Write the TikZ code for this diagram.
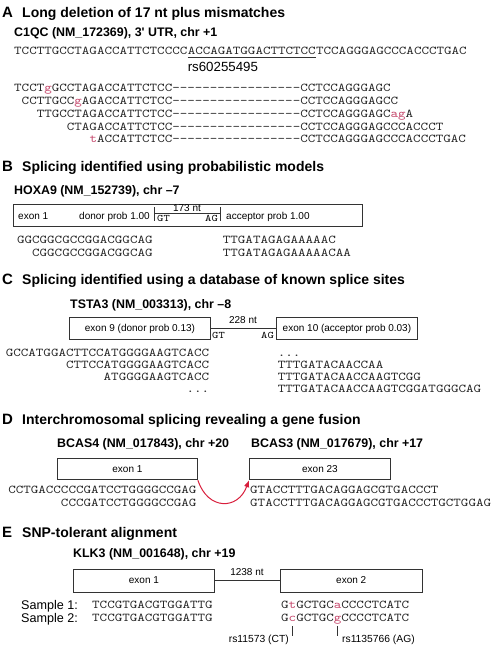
\documentclass[tikz,border=0pt]{standalone}
\usepackage{fontspec}
\setmainfont{Liberation Sans}
\setmonofont{lmmono10-regular.otf}[FakeStretch=1.2]
\usepackage{xcolor}
\usepackage{tikz}
\usetikzlibrary{arrows.meta,positioning}
\definecolor{snppink}{HTML}{C4456A}
\definecolor{fusered}{HTML}{D81E3C}
\definecolor{boxgrey}{HTML}{333333}
\newcommand{\mism}[1]{\textcolor{snppink}{#1}}

\begin{document}
\begin{tikzpicture}[
  x=1pt, y=-1pt,
  panel/.style={font=\bfseries\fontsize{15}{15}\selectfont, anchor=base west, inner sep=0pt},
  title/.style={font=\bfseries\fontsize{14}{14}\selectfont, anchor=base west, inner sep=0pt},
  gene/.style={font=\bfseries\fontsize{12.4}{13}\selectfont, anchor=base west, inner sep=0pt},
  seq/.style={font=\ttfamily\fontsize{11.95}{13}\selectfont, anchor=base west, inner sep=0pt, text=black!85},
  seqr/.style={seq, anchor=base east},
  exon/.style={draw=boxgrey, line width=0.9pt, minimum width=141pt, minimum height=22pt, inner sep=0pt, anchor=north west, font=\fontsize{10}{10}\selectfont},
  lbl/.style={font=\fontsize{10}{10}\selectfont, inner sep=0pt, anchor=base},
  site/.style={font=\ttfamily\fontsize{10}{10}\selectfont, inner sep=0pt},
  intron/.style={line width=0.9pt, boxgrey},
  fusion/.style={-{Latex[length=7pt,width=5.5pt]}, line width=1pt, fusered},
]
\useasboundingbox (0,0) rectangle (493,646);

% A: long deletion
\node[panel] (pA) at (2,17) {A};
\node[title] (tA) at (22,17) {Long deletion of 17 nt plus mismatches};
\node[gene] (gA) at (14,36.3) {C1QC (NM\_172369), 3\textquotesingle{} UTR, chr +1};
\node[seq] (refL) at (14,54.2) {TCCTTGCCTAGACCATTCTCCCC};
\node[seq] (refM) at (refL.base east) {ACCAGATGGACTTCTCC};
\node[seq] (refR) at (refM.base east) {TCCAGGGAGCCCACCCTGAC};
\draw[intron] ([yshift=-3.3pt]refM.base west) -- ([yshift=-3.3pt]refM.base east);
\node[font=\fontsize{13.3}{13}\selectfont, anchor=base west, inner sep=0pt] (rsA) at ([yshift=-17pt]refM.base west) {rs60255495};
\node[seq] (rA1) at (14,91.7) {TCCT\mism{g}GCCTAGACCATTCTCC-----------------CCTCCAGGGAGC};
\node[seq] (rA2) at (21.53,104.5) {CCTTGCC\mism{g}AGACCATTCTCC-----------------CCTCCAGGGAGCC};
\node[seq] (rA3) at (36.59,117.3) {TTGCCTAGACCATTCTCC-----------------CCTCCAGGGAGC\mism{ag}A};
\node[seq] (rA4) at (66.71,130.1) {CTAGACCATTCTCC-----------------CCTCCAGGGAGCCCACCCT};
\node[seq] (rA5) at (89.3,142.9) {\mism{t}ACCATTCTCC-----------------CCTCCAGGGAGCCCACCCTGAC};

% B: probabilistic splice model
\node[panel] (pB) at (2,171.5) {B};
\node[title] (tB) at (22,171.5) {Splicing identified using probabilistic models};
\node[gene] (gB) at (14,194.3) {HOXA9 (NM\_152739), chr --7};
\node[exon, minimum width=349pt, minimum height=21.7pt] (hoxbox) at (13,204.3) {};
\node[lbl, anchor=base west] (hoxex) at (18,219.4) {exon 1};
\node[lbl, anchor=base east] (hoxdon) at (150,219.4) {donor prob 1.00};
\node[lbl, anchor=base west] (hoxacc) at (226,219.4) {acceptor prob 1.00};
\coordinate (gtL) at (154,207);
\coordinate (agR) at (220,207);
\draw[intron] (gtL) -- ++(0,14) (agR) -- ++(0,14);
\draw[intron] ([yshift=-6pt]gtL) -- ([yshift=-6pt]agR);
\node[lbl] (ntB) at (187,211.5) {173 nt};
\node[site, anchor=base west] (gtB) at (157,221) {GT};
\node[site, anchor=base east] (agB) at (218,221) {AG};
\node[seqr] (sB1) at (152.8,243) {GGCGGCGCCGGACGGCAG};
\node[seqr] (sB2) at (152.8,256) {CGGCGCCGGACGGCAG};
\node[seq] (sB3) at (222.7,243) {TTGATAGAGAAAAAC};
\node[seq] (sB4) at (222.7,256) {TTGATAGAGAAAAACAA};

% C: known splice sites
\node[panel] (pC) at (2,284.8) {C};
\node[title] (tC) at (22,284.8) {Splicing identified using a database of known splice sites};
\node[gene] (gC) at (70,308.3) {TSTA3 (NM\_003313), chr --8};
\node[exon] (ex9) at (69,317) {exon 9 (donor prob 0.13)};
\node[exon] (ex10) at (276,317) {exon 10 (acceptor prob 0.03)};
\draw[intron] (ex9.east) -- (ex10.west);
\node[lbl] (ntC) at (243,323.4) {228 nt};
\node[site, anchor=base west] (gtC) at (212,338.5) {GT};
\node[site, anchor=base east] (agC) at (274,338.5) {AG};
\node[seqr] (sC1) at (209.3,356.7) {GCCATGGACTTCCATGGGGAAGTCACC};
\node[seqr] (sC2) at (209.3,368.7) {CTTCCATGGGGAAGTCACC};
\node[seqr] (sC3) at (209.3,380.7) {ATGGGGAAGTCACC};
\node[seqr] (sC4) at (209.3,392.7) {...};
\node[seq] (sC5) at (277.7,356.7) {...};
\node[seq] (sC6) at (277.7,368.7) {TTTGATACAACCAA};
\node[seq] (sC7) at (277.7,380.7) {TTTGATACAACCAAGTCGG};
\node[seq] (sC8) at (277.7,392.7) {TTTGATACAACCAAGTCGGATGGGCAG};

% D: gene fusion
\node[panel] (pD) at (2,424.8) {D};
\node[title] (tD) at (22,424.8) {Interchromosomal splicing revealing a gene fusion};
\node[gene] (gD1) at (57,447.7) {BCAS4 (NM\_017843), chr +20};
\node[gene] (gD2) at (251,447.7) {BCAS3 (NM\_017679), chr +17};
\node[exon, minimum height=21pt, minimum width=140pt] (bex1) at (57,458.3) {exon 1};
\node[exon, minimum height=21pt] (bex23) at (249,458.3) {exon 23};
\draw[fusion] (bex1.south east) to[out=-72, in=-110, looseness=1.6] (bex23.south west);
\node[seqr] (sD1) at (196.7,493.7) {CCTGACCCCCGATCCTGGGGCCGAG};
\node[seqr] (sD2) at (196.7,506.4) {CCCGATCCTGGGGCCGAG};
\node[seq] (sD3) at (250,493.7) {GTACCTTTGACAGGAGCGTGACCCT};
\node[seq] (sD4) at (250,506.4) {GTACCTTTGACAGGAGCGTGACCCTGCTGGAG};

% E: SNP-tolerant
\node[panel] (pE) at (2,537.8) {E};
\node[title] (tE) at (22,537.8) {SNP-tolerant alignment};
\node[gene] (gE) at (73,557.4) {KLK3 (NM\_001648), chr +19};
\node[exon, minimum height=23pt] (kex1) at (73,568.5) {exon 1};
\node[exon, minimum height=23pt, minimum width=141.5pt] (kex2) at (280,568.5) {exon 2};
\draw[intron] (kex1.east) -- (kex2.west);
\node[lbl] (ntE) at (247,575) {1238 nt};
\node[font=\fontsize{12.6}{12}\selectfont, anchor=base west, inner sep=0pt] (smp1) at (21,609.5) {Sample 1:};
\node[font=\fontsize{12.6}{12}\selectfont, anchor=base west, inner sep=0pt] (smp2) at (21,622.2) {Sample 2:};
\node[seq] (sE1) at (92,608.7) {TCCGTGACGTGGATTG};
\node[seq] (sE2) at (92,621.4) {TCCGTGACGTGGATTG};
\node[seq] (sE3) at (281,608.7) {G\mism{t}GCTGC\mism{a}CCCCTCATC};
\node[seq] (sE4) at (281,621.4) {G\mism{c}GCTGC\mism{g}CCCCTCATC};
\coordinate (snp1) at (292.3,626);
\coordinate (snp2) at (337.5,626);
\draw[intron, line width=0.7pt] (snp1) -- ++(0,10) (snp2) -- ++(0,10);
\node[lbl, font=\fontsize{10.3}{10}\selectfont, anchor=base east] (rsE1) at (289,642.6) {rs11573 (CT)};
\node[lbl, font=\fontsize{10.3}{10}\selectfont, anchor=base west] (rsE2) at (342,642.6) {rs1135766 (AG)};
\end{tikzpicture}
\end{document}
